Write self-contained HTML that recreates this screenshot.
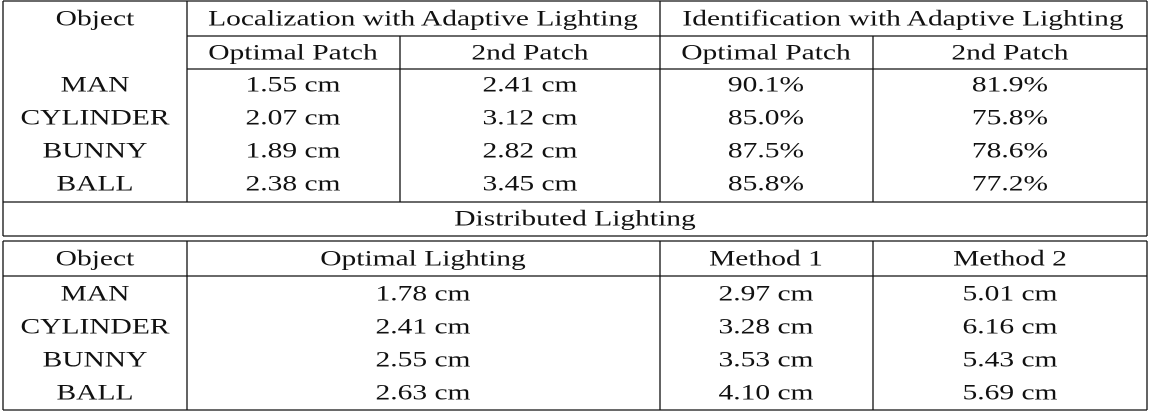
<!DOCTYPE html>
<html><head><meta charset="utf-8"><style>
html,body{margin:0;padding:0;background:#fff;width:1150px;height:414px;overflow:hidden}
svg text{font-family:"Liberation Serif",serif;font-size:22.5px;fill:#111;text-anchor:middle;dominant-baseline:central}
svg line{stroke:#111;stroke-width:1.3}
</style></head><body>
<svg id="tbl" width="1150" height="414">
<g>
<line x1="3" y1="1" x2="1147" y2="1"/>
<line x1="187" y1="36" x2="1147" y2="36"/>
<line x1="187" y1="69" x2="1147" y2="69"/>
<line x1="3" y1="202" x2="1147" y2="202"/>
<line x1="3" y1="236" x2="1147" y2="236"/>
<line x1="3" y1="1" x2="3" y2="236"/>
<line x1="1147" y1="1" x2="1147" y2="236"/>
<line x1="187" y1="1" x2="187" y2="202"/>
<line x1="660" y1="1" x2="660" y2="202"/>
<line x1="400" y1="36" x2="400" y2="202"/>
<line x1="873" y1="36" x2="873" y2="202"/>
<line x1="3" y1="241" x2="1147" y2="241"/>
<line x1="3" y1="276" x2="1147" y2="276"/>
<line x1="3" y1="410" x2="1147" y2="410"/>
<line x1="3" y1="241" x2="3" y2="410"/>
<line x1="1147" y1="241" x2="1147" y2="410"/>
<line x1="187" y1="241" x2="187" y2="410"/>
<line x1="660" y1="241" x2="660" y2="410"/>
<line x1="873" y1="241" x2="873" y2="410"/>
</g>
<g>
<text x="95" y="18">Object</text>
<text x="423" y="18">Localization with Adaptive Lighting</text>
<text x="903" y="18">Identification with Adaptive Lighting</text>
<text x="293" y="52">Optimal Patch</text>
<text x="530" y="52">2nd Patch</text>
<text x="766" y="52">Optimal Patch</text>
<text x="1010" y="52">2nd Patch</text>
</g>
<g>
<text x="95" y="84">MAN</text><text x="293" y="84">1.55 cm</text><text x="530" y="84">2.41 cm</text><text x="766" y="84">90.1%</text><text x="1010" y="84">81.9%</text>
<text x="95" y="117">CYLINDER</text><text x="293" y="117">2.07 cm</text><text x="530" y="117">3.12 cm</text><text x="766" y="117">85.0%</text><text x="1010" y="117">75.8%</text>
<text x="95" y="150">BUNNY</text><text x="293" y="150">1.89 cm</text><text x="530" y="150">2.82 cm</text><text x="766" y="150">87.5%</text><text x="1010" y="150">78.6%</text>
<text x="95" y="183">BALL</text><text x="293" y="183">2.38 cm</text><text x="530" y="183">3.45 cm</text><text x="766" y="183">85.8%</text><text x="1010" y="183">77.2%</text>
</g>
<text x="575" y="218">Distributed Lighting</text>
<g>
<text x="95" y="258">Object</text>
<text x="423" y="258">Optimal Lighting</text>
<text x="766" y="258">Method 1</text>
<text x="1010" y="258">Method 2</text>
</g>
<g>
<text x="95" y="293">MAN</text><text x="423" y="293">1.78 cm</text><text x="766" y="293">2.97 cm</text><text x="1010" y="293">5.01 cm</text>
<text x="95" y="326">CYLINDER</text><text x="423" y="326">2.41 cm</text><text x="766" y="326">3.28 cm</text><text x="1010" y="326">6.16 cm</text>
<text x="95" y="359">BUNNY</text><text x="423" y="359">2.55 cm</text><text x="766" y="359">3.53 cm</text><text x="1010" y="359">5.43 cm</text>
<text x="95" y="392">BALL</text><text x="423" y="392">2.63 cm</text><text x="766" y="392">4.10 cm</text><text x="1010" y="392">5.69 cm</text>
</g>
</svg>
<script>
document.querySelectorAll('#tbl text').forEach(function(t){
  var w=t.getComputedTextLength();
  t.setAttribute('textLength',(w*1.31).toFixed(1));
  t.setAttribute('lengthAdjust','spacingAndGlyphs');
});
</script>
</body></html>
